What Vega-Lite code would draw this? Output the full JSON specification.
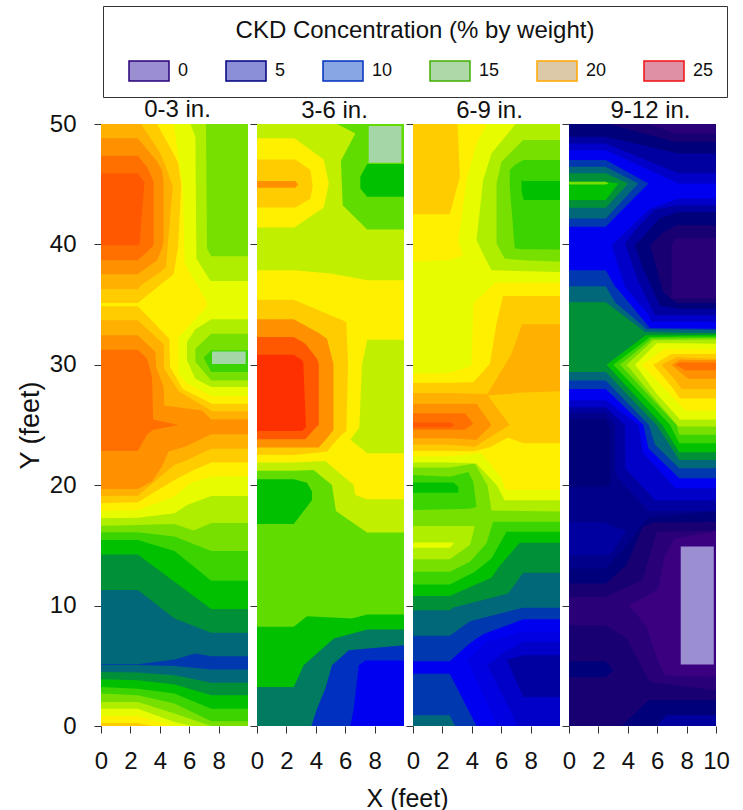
{"$schema":"https://vega.github.io/schema/vega-lite/v6.json","padding":{"left":16,"top":5,"right":0,"bottom":0},"background":"white","datasets":{
"p1":[
{"r":1,"l":19,"x":0,"y":0,"y2":50},{"r":1,"l":19,"x":10,"y":0,"y2":50},
{"r":2,"l":18,"x":0,"y":0.25,"y2":50},{"r":2,"l":18,"x":2.5,"y":0.25,"y2":50},{"r":2,"l":18,"x":3.47,"y":0,"y2":50},{"r":2,"l":18,"x":10,"y":0,"y2":50},
{"r":3,"l":17,"x":0,"y":0.83,"y2":50},{"r":3,"l":17,"x":2.5,"y":0.83,"y2":50},{"r":3,"l":17,"x":4.9,"y":0,"y2":50},{"r":3,"l":17,"x":10,"y":0,"y2":50},
{"r":4,"l":15,"x":0,"y":1.44,"y2":50},{"r":4,"l":15,"x":2.5,"y":1.44,"y2":50},{"r":4,"l":15,"x":5,"y":0.33,"y2":50},{"r":4,"l":15,"x":6.2,"y":0,"y2":50},{"r":4,"l":15,"x":10,"y":0,"y2":50},
{"r":5,"l":14,"x":0,"y":2,"y2":50},{"r":5,"l":14,"x":2.5,"y":2,"y2":50},{"r":5,"l":14,"x":5,"y":1.03,"y2":50},{"r":5,"l":14,"x":7.5,"y":0,"y2":50},{"r":5,"l":14,"x":10,"y":0,"y2":50},
{"r":6,"l":12,"x":0,"y":2.69,"y2":50},{"r":6,"l":12,"x":2.5,"y":2.55,"y2":50},{"r":6,"l":12,"x":5,"y":1.86,"y2":50},{"r":6,"l":12,"x":7.5,"y":0.39,"y2":50},{"r":6,"l":12,"x":10,"y":0.39,"y2":50},
{"r":7,"l":11,"x":0,"y":3.24,"y2":50},{"r":7,"l":11,"x":2.5,"y":3.1,"y2":50},{"r":7,"l":11,"x":5,"y":2.69,"y2":50},{"r":7,"l":11,"x":7.5,"y":1.44,"y2":50},{"r":7,"l":11,"x":10,"y":1.44,"y2":50},
{"r":8,"l":10,"x":0,"y":3.88,"y2":50},{"r":8,"l":10,"x":2.5,"y":3.8,"y2":50},{"r":8,"l":10,"x":5,"y":3.44,"y2":50},{"r":8,"l":10,"x":7.5,"y":2.55,"y2":50},{"r":8,"l":10,"x":10,"y":2.55,"y2":50},
{"r":9,"l":9,"x":0,"y":4.49,"y2":50},{"r":9,"l":9,"x":2.5,"y":4.44,"y2":50},{"r":9,"l":9,"x":5,"y":4.22,"y2":50},{"r":9,"l":9,"x":7.5,"y":3.6,"y2":50},{"r":9,"l":9,"x":10,"y":3.6,"y2":50},
{"r":10,"l":8,"x":0,"y":5.07,"y2":50},{"r":10,"l":8,"x":2.5,"y":5.07,"y2":50},{"r":10,"l":8,"x":5,"y":4.99,"y2":50},{"r":10,"l":8,"x":7.5,"y":4.69,"y2":50},{"r":10,"l":8,"x":10,"y":4.69,"y2":50},
{"r":11,"l":9,"x":0,"y":5.13,"y2":50},{"r":11,"l":9,"x":2.5,"y":5.13,"y2":50},{"r":11,"l":9,"x":5,"y":5.52,"y2":50},{"r":11,"l":9,"x":6.4,"y":6.02,"y2":50},{"r":11,"l":9,"x":7.5,"y":5.8,"y2":50},{"r":11,"l":9,"x":10,"y":5.8,"y2":50},
{"r":12,"l":10,"x":0,"y":11.29,"y2":50},{"r":12,"l":10,"x":2.5,"y":11.29,"y2":50},{"r":12,"l":10,"x":5,"y":8.93,"y2":50},{"r":12,"l":10,"x":7.5,"y":7.74,"y2":50},{"r":12,"l":10,"x":10,"y":7.74,"y2":50},
{"r":13,"l":11,"x":0,"y":14.25,"y2":50},{"r":13,"l":11,"x":2.5,"y":14.25,"y2":50},{"r":13,"l":11,"x":5,"y":11.98,"y2":50},{"r":13,"l":11,"x":7.5,"y":9.71,"y2":50},{"r":13,"l":11,"x":10,"y":9.71,"y2":50},
{"r":14,"l":12,"x":0,"y":15.45,"y2":50},{"r":14,"l":12,"x":2.5,"y":15.45,"y2":50},{"r":14,"l":12,"x":5,"y":14.53,"y2":50},{"r":14,"l":12,"x":7.5,"y":12.06,"y2":50},{"r":14,"l":12,"x":10,"y":12.06,"y2":50},
{"r":15,"l":14,"x":0,"y":16.09,"y2":50},{"r":15,"l":14,"x":2.5,"y":16.09,"y2":50},{"r":15,"l":14,"x":5,"y":15.73,"y2":50},{"r":15,"l":14,"x":7.5,"y":14.53,"y2":50},{"r":15,"l":14,"x":10,"y":14.53,"y2":50},
{"r":16,"l":15,"x":0,"y":16.64,"y2":50},{"r":16,"l":15,"x":2.5,"y":16.69,"y2":50},{"r":16,"l":15,"x":5,"y":16.78,"y2":50},{"r":16,"l":15,"x":6.3,"y":16.24,"y2":50},{"r":16,"l":15,"x":7.5,"y":16.86,"y2":50},{"r":16,"l":15,"x":10,"y":16.86,"y2":50},
{"r":17,"l":17,"x":0,"y":17.25,"y2":50},{"r":17,"l":17,"x":2.5,"y":17.3,"y2":50},{"r":17,"l":17,"x":5,"y":17.66,"y2":50},{"r":17,"l":17,"x":5.85,"y":18.36,"y2":50},{"r":17,"l":17,"x":7.5,"y":19.11,"y2":50},{"r":17,"l":17,"x":10,"y":19.11,"y2":50},
{"r":18,"l":18,"x":0,"y":17.86,"y2":50},{"r":18,"l":18,"x":2.5,"y":17.94,"y2":50},{"r":18,"l":18,"x":5,"y":19.06,"y2":50},{"r":18,"l":18,"x":6.08,"y":20.16,"y2":50},{"r":18,"l":18,"x":7.5,"y":20.72,"y2":50},{"r":18,"l":18,"x":10,"y":20.72,"y2":50},
{"r":19,"l":19,"x":0,"y":18.5,"y2":50},{"r":19,"l":19,"x":2.5,"y":18.58,"y2":50},{"r":19,"l":19,"x":5,"y":20.44,"y2":50},{"r":19,"l":19,"x":6.19,"y":21.19,"y2":50},{"r":19,"l":19,"x":7.5,"y":21.88,"y2":50},{"r":19,"l":19,"x":10,"y":21.88,"y2":50},
{"r":20,"l":20,"x":0,"y":19.11,"y2":50},{"r":20,"l":20,"x":2.5,"y":19.13,"y2":50},{"r":20,"l":20,"x":5,"y":21.69,"y2":50},{"r":20,"l":20,"x":5.62,"y":21.96,"y2":50},{"r":20,"l":20,"x":7.5,"y":23.02,"y2":50},{"r":20,"l":20,"x":10,"y":23.02,"y2":50},
{"r":21,"l":21,"x":0,"y":19.69,"y2":50},{"r":21,"l":21,"x":2.5,"y":19.69,"y2":50},{"r":21,"l":21,"x":3.47,"y":20.3,"y2":50},{"r":21,"l":21,"x":4.15,"y":21.55,"y2":50},{"r":21,"l":21,"x":4.6,"y":22.8,"y2":50},{"r":21,"l":21,"x":5.74,"y":23.21,"y2":50},{"r":21,"l":21,"x":7.5,"y":24.24,"y2":50},{"r":21,"l":21,"x":10,"y":24.24,"y2":50},
{"r":22,"l":20,"x":0,"y":32.45,"y2":50},{"r":22,"l":20,"x":2.5,"y":32.45,"y2":50},{"r":22,"l":20,"x":3.7,"y":31.06,"y2":50},{"r":22,"l":20,"x":3.75,"y":29.81,"y2":50},{"r":22,"l":20,"x":4.26,"y":28.15,"y2":50},{"r":22,"l":20,"x":4.3,"y":26.62,"y2":50},{"r":22,"l":20,"x":6.87,"y":26.2,"y2":50},{"r":22,"l":20,"x":7.5,"y":25.46,"y2":50},{"r":22,"l":20,"x":10,"y":25.46,"y2":50},
{"r":23,"l":19,"x":0,"y":33.7,"y2":50},{"r":23,"l":19,"x":2.5,"y":33.7,"y2":50},{"r":23,"l":19,"x":4.26,"y":31.7,"y2":50},{"r":23,"l":19,"x":4.3,"y":29.67,"y2":50},{"r":23,"l":19,"x":5.28,"y":27.81,"y2":50},{"r":23,"l":19,"x":7.55,"y":26.15,"y2":50},{"r":23,"l":19,"x":10,"y":26.15,"y2":50},
{"r":24,"l":18,"x":0,"y":34.86,"y2":50},{"r":24,"l":18,"x":2.5,"y":34.86,"y2":50},{"r":24,"l":18,"x":4.65,"y":32.17,"y2":50},{"r":24,"l":18,"x":4.7,"y":29.81,"y2":50},{"r":24,"l":18,"x":5.56,"y":28,"y2":50},{"r":24,"l":18,"x":7.55,"y":26.76,"y2":50},{"r":24,"l":18,"x":10,"y":26.76,"y2":50},
{"r":25,"l":22,"x":0,"y":22.85,"y2":31.25},{"r":25,"l":22,"x":2.5,"y":22.85,"y2":31.25},{"r":25,"l":22,"x":3.13,"y":24.22,"y2":30.5},{"r":25,"l":22,"x":3.47,"y":24.55,"y2":29},{"r":25,"l":22,"x":3.55,"y":24.6,"y2":25.45},{"r":25,"l":22,"x":5.28,"y":25,"y2":25},
{"r":26,"l":19,"x":0,"y":35.14,"y2":50},{"r":26,"l":19,"x":2.5,"y":35.14,"y2":50},{"r":26,"l":19,"x":3.81,"y":36.42,"y2":50},{"r":26,"l":19,"x":4.94,"y":37.52,"y2":47.5},{"r":26,"l":19,"x":5.24,"y":39.79,"y2":46.8},{"r":26,"l":19,"x":5.46,"y":44.93,"y2":44.93},
{"r":27,"l":20,"x":0,"y":36.27,"y2":50},{"r":27,"l":20,"x":2.5,"y":36.27,"y2":50},{"r":27,"l":20,"x":2.72,"y":36.6,"y2":50},{"r":27,"l":20,"x":4.04,"y":37.7,"y2":47.56},{"r":27,"l":20,"x":4.42,"y":38.13,"y2":46.42},{"r":27,"l":20,"x":4.88,"y":44.79,"y2":44.79},
{"r":28,"l":21,"x":0,"y":37.52,"y2":48.81},{"r":28,"l":21,"x":2.5,"y":37.52,"y2":48.81},{"r":28,"l":21,"x":3.81,"y":38.69,"y2":46.9},{"r":28,"l":21,"x":4.15,"y":39.66,"y2":46.17},{"r":28,"l":21,"x":4.26,"y":40.35,"y2":45.06},
{"r":29,"l":22,"x":0,"y":38.69,"y2":47.37},{"r":29,"l":22,"x":2.5,"y":38.69,"y2":47.37},{"r":29,"l":22,"x":3.13,"y":39.38,"y2":46.45},{"r":29,"l":22,"x":3.58,"y":39.93,"y2":45.2},
{"r":30,"l":23,"x":0,"y":39.93,"y2":45.9},{"r":30,"l":23,"x":2.5,"y":39.93,"y2":45.9},{"r":30,"l":23,"x":2.61,"y":39.93,"y2":45.7},{"r":30,"l":23,"x":2.95,"y":45.06,"y2":45.2},
{"r":31,"l":17,"x":4.94,"y":50,"y2":50},{"r":31,"l":17,"x":5.56,"y":44.79,"y2":50},{"r":31,"l":17,"x":5.69,"y":38.41,"y2":50},{"r":31,"l":17,"x":7.21,"y":35.22,"y2":50},{"r":31,"l":17,"x":7.44,"y":27.4,"y2":50},{"r":31,"l":17,"x":10,"y":27.4,"y2":50},
{"r":32,"l":17,"x":5.28,"y":29.26,"y2":32.31},{"r":32,"l":17,"x":5.74,"y":28.56,"y2":32.9},{"r":32,"l":17,"x":6.98,"y":27.76,"y2":34.53},{"r":32,"l":17,"x":7.44,"y":27.45,"y2":35.22},
{"r":33,"l":15,"x":6.08,"y":50,"y2":50},{"r":33,"l":15,"x":6.42,"y":48.95,"y2":50},{"r":33,"l":15,"x":6.49,"y":38.82,"y2":50},{"r":33,"l":15,"x":7.44,"y":36.97,"y2":50},{"r":33,"l":15,"x":10,"y":36.97,"y2":50},
{"r":34,"l":14,"x":7.14,"y":50,"y2":50},{"r":34,"l":14,"x":7.21,"y":39.66,"y2":50},{"r":34,"l":14,"x":7.5,"y":39.02,"y2":50},{"r":34,"l":14,"x":10,"y":39.02,"y2":50},
{"r":35,"l":15,"x":5.85,"y":30.37,"y2":31.89},{"r":35,"l":15,"x":6.42,"y":28.84,"y2":32.95},{"r":35,"l":15,"x":7.5,"y":28.15,"y2":33.78},{"r":35,"l":15,"x":10,"y":28.15,"y2":33.78},
{"r":36,"l":14,"x":6.42,"y":30.23,"y2":31.34},{"r":36,"l":14,"x":7.5,"y":28.7,"y2":32.58},{"r":36,"l":14,"x":10,"y":28.7,"y2":32.58},
{"r":37,"l":12,"x":6.98,"y":30.59,"y2":30.59},{"r":37,"l":12,"x":7.5,"y":29.4,"y2":31.2},{"r":37,"l":12,"x":10,"y":29.4,"y2":31.2},
{"r":38,"l":25,"x":7.55,"y":30.06,"y2":31.1},{"r":38,"l":25,"x":9.84,"y":30.06,"y2":31.1}
],
"p2":[
{"r":1,"l":27,"x":0,"y":0,"y2":50},{"r":1,"l":27,"x":10,"y":0,"y2":50},
{"r":2,"l":11,"x":0,"y":3.24,"y2":50},{"r":2,"l":11,"x":2.5,"y":3.24,"y2":50},{"r":2,"l":11,"x":3.17,"y":5.05,"y2":50},{"r":2,"l":11,"x":5.22,"y":7.27,"y2":50},{"r":2,"l":11,"x":7.5,"y":8.01,"y2":50},{"r":2,"l":11,"x":10,"y":8.01,"y2":50},
{"r":3,"l":13,"x":0,"y":8.24,"y2":50},{"r":3,"l":13,"x":2.5,"y":8.24,"y2":50},{"r":3,"l":13,"x":3.4,"y":9.12,"y2":50},{"r":3,"l":13,"x":6.46,"y":8.93,"y2":50},{"r":3,"l":13,"x":7.5,"y":9.26,"y2":50},{"r":3,"l":13,"x":10,"y":9.26,"y2":50},
{"r":4,"l":28,"x":3.7,"y":0,"y2":0},{"r":4,"l":28,"x":4.08,"y":0,"y2":1.44},{"r":4,"l":28,"x":4.65,"y":0,"y2":3.11},{"r":4,"l":28,"x":5.1,"y":0,"y2":5.05},{"r":4,"l":28,"x":6.24,"y":0,"y2":6.29},{"r":4,"l":28,"x":10,"y":0,"y2":6.71},
{"r":5,"l":7,"x":6.35,"y":0,"y2":0},{"r":5,"l":7,"x":6.58,"y":0,"y2":1.44},{"r":5,"l":7,"x":6.92,"y":0,"y2":5.05},{"r":5,"l":7,"x":7.37,"y":0,"y2":5.44},{"r":5,"l":7,"x":10,"y":0,"y2":5.44},
{"r":6,"l":11,"x":0,"y":16.78,"y2":20.49},{"r":6,"l":11,"x":2.5,"y":16.78,"y2":20.49},{"r":6,"l":11,"x":3.4,"y":18.22,"y2":20.2},{"r":6,"l":11,"x":3.74,"y":18.77,"y2":19.47},
{"r":7,"l":16,"x":0,"y":21.19,"y2":50},{"r":7,"l":16,"x":2.5,"y":21.19,"y2":50},{"r":7,"l":16,"x":3.85,"y":21.27,"y2":50},{"r":7,"l":16,"x":5.1,"y":20.02,"y2":50},{"r":7,"l":16,"x":5.37,"y":17.86,"y2":50},{"r":7,"l":16,"x":7.48,"y":16.08,"y2":50},{"r":7,"l":16,"x":10,"y":16.08,"y2":50},
{"r":8,"l":18,"x":0,"y":21.88,"y2":50},{"r":8,"l":18,"x":2.5,"y":21.88,"y2":50},{"r":8,"l":18,"x":4.65,"y":22,"y2":50},{"r":8,"l":18,"x":6.58,"y":20.02,"y2":50},{"r":8,"l":18,"x":6.69,"y":19.19,"y2":50},{"r":8,"l":18,"x":7.48,"y":18.83,"y2":50},{"r":8,"l":18,"x":10,"y":18.83,"y2":50},
{"r":9,"l":19,"x":0,"y":22.52,"y2":35.41},{"r":9,"l":19,"x":2.5,"y":22.5,"y2":35.41},{"r":9,"l":19,"x":4.76,"y":22.8,"y2":34.25},{"r":9,"l":19,"x":5.74,"y":24.2,"y2":33.75},{"r":9,"l":19,"x":6.08,"y":24.5,"y2":33.55},{"r":9,"l":19,"x":6.19,"y":30.1,"y2":30.1},
{"r":10,"l":21,"x":0,"y":23.13,"y2":33.78},{"r":10,"l":21,"x":2.5,"y":23.13,"y2":33.78},{"r":10,"l":21,"x":4.2,"y":23.13,"y2":32.64},{"r":10,"l":21,"x":4.76,"y":23.9,"y2":32.17},{"r":10,"l":21,"x":5.15,"y":24.5,"y2":30.3},{"r":10,"l":21,"x":5.2,"y":24.6,"y2":30.08},
{"r":11,"l":23,"x":0,"y":23.82,"y2":32.3},{"r":11,"l":23,"x":2.5,"y":23.82,"y2":32.3},{"r":11,"l":23,"x":3.29,"y":23.82,"y2":31.75},{"r":11,"l":23,"x":4.08,"y":24.9,"y2":30.5},{"r":11,"l":23,"x":4.2,"y":25,"y2":30.1},
{"r":12,"l":24,"x":0,"y":24.5,"y2":30.84},{"r":12,"l":24,"x":2.5,"y":24.5,"y2":30.84},{"r":12,"l":24,"x":3.06,"y":24.5,"y2":30.4},{"r":12,"l":24,"x":3.15,"y":24.6,"y2":30.2},{"r":12,"l":24,"x":3.33,"y":24.8,"y2":24.8},
{"r":13,"l":16,"x":6.35,"y":23.77,"y2":23.77},{"r":13,"l":16,"x":6.96,"y":23.18,"y2":24.8},{"r":13,"l":16,"x":7.14,"y":23.02,"y2":30},{"r":13,"l":16,"x":7.5,"y":22.66,"y2":32.09},{"r":13,"l":16,"x":10,"y":22.66,"y2":32.09},
{"r":14,"l":16,"x":0,"y":37.85,"y2":50},{"r":14,"l":16,"x":2.5,"y":37.85,"y2":50},{"r":14,"l":16,"x":5,"y":37.58,"y2":50},{"r":14,"l":16,"x":7.5,"y":37.02,"y2":50},{"r":14,"l":16,"x":10,"y":37.02,"y2":50},
{"r":15,"l":18,"x":0,"y":41.4,"y2":48.81},{"r":15,"l":18,"x":2.54,"y":41.4,"y2":48.81},{"r":15,"l":18,"x":4.54,"y":43.07,"y2":47.06},{"r":15,"l":18,"x":4.88,"y":45.06,"y2":45.06},
{"r":16,"l":19,"x":0,"y":43.07,"y2":47.06},{"r":16,"l":19,"x":2.6,"y":43.07,"y2":47.06},{"r":16,"l":19,"x":3.63,"y":43.8,"y2":46.17},{"r":16,"l":19,"x":3.79,"y":44.9,"y2":44.9},
{"r":17,"l":21,"x":0,"y":44.7,"y2":45.26},{"r":17,"l":21,"x":2.6,"y":44.7,"y2":45.26},{"r":17,"l":21,"x":2.8,"y":44.97,"y2":44.97},
{"r":18,"l":13,"x":5.44,"y":50,"y2":50},{"r":18,"l":13,"x":5.71,"y":46.95,"y2":50},{"r":18,"l":13,"x":5.83,"y":43.26,"y2":50},{"r":18,"l":13,"x":7.5,"y":41.24,"y2":50},{"r":18,"l":13,"x":10,"y":41.24,"y2":50},
{"r":19,"l":16,"x":5.44,"y":46.5,"y2":50},{"r":19,"l":16,"x":5.71,"y":46.95,"y2":49.83},{"r":19,"l":16,"x":6.69,"y":49.22,"y2":49.22},
{"r":20,"l":11,"x":7.03,"y":44.65,"y2":45.62},{"r":20,"l":11,"x":7.5,"y":43.95,"y2":46.67},{"r":20,"l":11,"x":10,"y":43.95,"y2":46.67},
{"r":21,"l":25,"x":7.6,"y":46.78,"y2":49.83},{"r":21,"l":25,"x":9.82,"y":46.78,"y2":49.83}
],
"p3":[
{"r":1,"l":8,"x":0,"y":0,"y2":50},{"r":1,"l":8,"x":10,"y":0,"y2":50},
{"r":2,"l":9,"x":0,"y":0,"y2":0.89},{"r":2,"l":9,"x":2.5,"y":0,"y2":0.89},{"r":2,"l":9,"x":2.85,"y":0,"y2":0},
{"r":3,"l":7,"x":0,"y":4.35,"y2":5.38},{"r":3,"l":7,"x":2.5,"y":4.35,"y2":5.38},{"r":3,"l":7,"x":3.7,"y":1.47,"y2":6.71},{"r":3,"l":7,"x":4.32,"y":0,"y2":7.27},{"r":3,"l":7,"x":4.88,"y":0,"y2":7.68},{"r":3,"l":7,"x":7.5,"y":0,"y2":8.87},{"r":3,"l":7,"x":10,"y":0,"y2":8.87},
{"r":4,"l":30,"x":3.71,"y":5.46,"y2":5.46},{"r":4,"l":30,"x":5,"y":2,"y2":6.99},{"r":4,"l":30,"x":5.75,"y":0,"y2":7.2},{"r":4,"l":30,"x":7.5,"y":0,"y2":7.82},{"r":4,"l":30,"x":10,"y":0,"y2":7.82},
{"r":5,"l":6,"x":5.07,"y":5.05,"y2":5.05},{"r":5,"l":6,"x":6.24,"y":2.2,"y2":6.16},{"r":5,"l":6,"x":7.15,"y":0,"y2":6.71},{"r":5,"l":6,"x":7.5,"y":0,"y2":7},{"r":5,"l":6,"x":10,"y":0,"y2":7},
{"r":6,"l":5,"x":6.38,"y":5.5,"y2":5.5},{"r":6,"l":5,"x":7.5,"y":2.41,"y2":5.88},{"r":6,"l":5,"x":10,"y":2.41,"y2":5.88},
{"r":7,"l":9,"x":0,"y":7.49,"y2":50},{"r":7,"l":9,"x":2.5,"y":7.49,"y2":50},{"r":7,"l":9,"x":3.87,"y":8.71,"y2":50},{"r":7,"l":9,"x":7.5,"y":9.82,"y2":50},{"r":7,"l":9,"x":10,"y":9.82,"y2":50},
{"r":8,"l":10,"x":0,"y":9.62,"y2":50},{"r":8,"l":10,"x":2.5,"y":9.62,"y2":50},{"r":8,"l":10,"x":2.74,"y":9.84,"y2":50},{"r":8,"l":10,"x":6.47,"y":11,"y2":50},{"r":8,"l":10,"x":7.5,"y":12.73,"y2":50},{"r":8,"l":10,"x":10,"y":12.73,"y2":50},
{"r":9,"l":11,"x":0,"y":10.79,"y2":50},{"r":9,"l":11,"x":2.5,"y":10.79,"y2":50},{"r":9,"l":11,"x":4.43,"y":11.84,"y2":50},{"r":9,"l":11,"x":5.34,"y":12.31,"y2":50},{"r":9,"l":11,"x":5.79,"y":13.14,"y2":50},{"r":9,"l":11,"x":7.26,"y":15.22,"y2":50},{"r":9,"l":11,"x":10,"y":15.22,"y2":50},
{"r":10,"l":12,"x":0,"y":11.76,"y2":50},{"r":10,"l":12,"x":2.5,"y":11.76,"y2":50},{"r":10,"l":12,"x":4.21,"y":12.81,"y2":50},{"r":10,"l":12,"x":5.34,"y":13.92,"y2":50},{"r":10,"l":12,"x":6.36,"y":16.14,"y2":50},{"r":10,"l":12,"x":10,"y":16.14,"y2":50},
{"r":11,"l":14,"x":0,"y":12.81,"y2":50},{"r":11,"l":14,"x":2.5,"y":12.81,"y2":50},{"r":11,"l":14,"x":3.87,"y":13.64,"y2":50},{"r":11,"l":14,"x":5,"y":15.17,"y2":50},{"r":11,"l":14,"x":5.45,"y":16.97,"y2":50},{"r":11,"l":14,"x":10,"y":16.97,"y2":50},
{"r":12,"l":15,"x":0,"y":13.84,"y2":16.61},{"r":12,"l":15,"x":2.5,"y":13.84,"y2":16.61},{"r":12,"l":15,"x":3.87,"y":15.03,"y2":16.61},{"r":12,"l":15,"x":4.21,"y":16.6,"y2":16.6},
{"r":13,"l":17,"x":0,"y":14.8,"y2":15.25},{"r":13,"l":17,"x":2.5,"y":14.8,"y2":15.25},{"r":13,"l":17,"x":2.74,"y":15.1,"y2":15.25},
{"r":14,"l":12,"x":0,"y":17.94,"y2":20.85},{"r":14,"l":12,"x":2.5,"y":18,"y2":20.7},{"r":14,"l":12,"x":3.76,"y":18.05,"y2":21.1},{"r":14,"l":12,"x":4.1,"y":18.1,"y2":20.3},{"r":14,"l":12,"x":4.32,"y":18.2,"y2":18.2},
{"r":15,"l":11,"x":0,"y":19.38,"y2":20.22},{"r":15,"l":11,"x":2.74,"y":19.38,"y2":20.22},{"r":15,"l":11,"x":3.08,"y":19.38,"y2":19.88},
{"r":16,"l":15,"x":0,"y":21.46,"y2":50},{"r":16,"l":15,"x":2.5,"y":21.46,"y2":50},{"r":16,"l":15,"x":4.21,"y":21.8,"y2":50},{"r":16,"l":15,"x":5.07,"y":19.98,"y2":50},{"r":16,"l":15,"x":5.34,"y":17.9,"y2":50},{"r":16,"l":15,"x":10,"y":17.82,"y2":50},
{"r":17,"l":17,"x":0,"y":21.88,"y2":50},{"r":17,"l":17,"x":2.5,"y":21.88,"y2":50},{"r":17,"l":17,"x":4.32,"y":21.8,"y2":50},{"r":17,"l":17,"x":5.7,"y":20,"y2":50},{"r":17,"l":17,"x":6.24,"y":18.76,"y2":50},{"r":17,"l":17,"x":10,"y":18.76,"y2":50},
{"r":18,"l":18,"x":0,"y":22.38,"y2":50},{"r":18,"l":18,"x":2.5,"y":22.4,"y2":50},{"r":18,"l":18,"x":4.66,"y":22.66,"y2":50},{"r":18,"l":18,"x":6.02,"y":20.57,"y2":50},{"r":18,"l":18,"x":6.29,"y":19.6,"y2":50},{"r":18,"l":18,"x":10,"y":19.6,"y2":50},
{"r":19,"l":19,"x":0,"y":22.85,"y2":28.48},{"r":19,"l":19,"x":2.5,"y":22.85,"y2":28.5},{"r":19,"l":19,"x":4.1,"y":22.83,"y2":28.56},{"r":19,"l":19,"x":5.23,"y":23.16,"y2":30.09},{"r":19,"l":19,"x":5.68,"y":23.45,"y2":33.42},{"r":19,"l":19,"x":6.13,"y":23.75,"y2":35.72},{"r":19,"l":19,"x":6.46,"y":23.96,"y2":35.72},{"r":19,"l":19,"x":7.5,"y":23.49,"y2":35.72},{"r":19,"l":19,"x":10,"y":23.49,"y2":35.72},
{"r":20,"l":20,"x":5,"y":27.45,"y2":27.45},{"r":20,"l":20,"x":6.7,"y":27.6,"y2":30.9},{"r":20,"l":20,"x":7.42,"y":27.7,"y2":33.36},{"r":20,"l":20,"x":10,"y":27.8,"y2":33.36},
{"r":21,"l":20,"x":0,"y":23.35,"y2":27.65},{"r":21,"l":20,"x":2.5,"y":23.35,"y2":27.65},{"r":21,"l":20,"x":4.21,"y":23.2,"y2":27.6},{"r":21,"l":20,"x":5,"y":23.82,"y2":27.6},{"r":21,"l":20,"x":6.58,"y":25,"y2":25},
{"r":22,"l":21,"x":0,"y":23.9,"y2":26.76},{"r":22,"l":21,"x":2.5,"y":23.9,"y2":26.76},{"r":22,"l":21,"x":4.32,"y":23.78,"y2":26.76},{"r":22,"l":21,"x":5.34,"y":25,"y2":25},
{"r":23,"l":22,"x":0,"y":24.6,"y2":25.98},{"r":23,"l":22,"x":3.53,"y":24.6,"y2":25.98},{"r":23,"l":22,"x":4.1,"y":25.1,"y2":25.1},
{"r":24,"l":23,"x":0,"y":24.8,"y2":25.2},{"r":24,"l":23,"x":2.6,"y":24.8,"y2":25.2},{"r":24,"l":23,"x":2.8,"y":25,"y2":25},
{"r":25,"l":19,"x":0,"y":42.51,"y2":50},{"r":25,"l":19,"x":2.5,"y":42.51,"y2":50},{"r":25,"l":19,"x":3.03,"y":44.9,"y2":50},{"r":25,"l":19,"x":3.19,"y":45.62,"y2":45.62},
{"r":26,"l":17,"x":0,"y":29.26,"y2":38.55},{"r":26,"l":17,"x":2.5,"y":29.34,"y2":38.7},{"r":26,"l":17,"x":3.42,"y":29.7,"y2":39.1},{"r":26,"l":17,"x":3.98,"y":29.95,"y2":38.74},{"r":26,"l":17,"x":4.1,"y":35.1,"y2":38.6},{"r":26,"l":17,"x":5.61,"y":36.83,"y2":37.8},{"r":26,"l":17,"x":10,"y":36.83,"y2":37.71},
{"r":27,"l":17,"x":3.08,"y":40.2,"y2":40.2},{"r":27,"l":17,"x":3.42,"y":39.1,"y2":43.3},{"r":27,"l":17,"x":3.64,"y":38.96,"y2":45.34},{"r":27,"l":17,"x":4.32,"y":38.5,"y2":48.39},{"r":27,"l":17,"x":5,"y":38.07,"y2":50},{"r":27,"l":17,"x":5.34,"y":37.85,"y2":50},{"r":27,"l":17,"x":10,"y":37.71,"y2":50},
{"r":28,"l":15,"x":4.32,"y":40.36,"y2":40.36},{"r":28,"l":15,"x":4.77,"y":39.2,"y2":45.34},{"r":28,"l":15,"x":5.34,"y":37.85,"y2":47.56},{"r":28,"l":15,"x":6.97,"y":37.8,"y2":50},{"r":28,"l":15,"x":10,"y":37.71,"y2":50},
{"r":29,"l":14,"x":5.68,"y":40.07,"y2":45.06},{"r":29,"l":14,"x":6.02,"y":39.3,"y2":46.87},{"r":29,"l":14,"x":6.24,"y":38.82,"y2":47.14},{"r":29,"l":14,"x":7.5,"y":38.69,"y2":48.67},{"r":29,"l":14,"x":10,"y":38.55,"y2":48.67},
{"r":30,"l":12,"x":6.58,"y":44.8,"y2":46.17},{"r":30,"l":12,"x":6.92,"y":39.66,"y2":46.6},{"r":30,"l":12,"x":7.5,"y":39.6,"y2":47},{"r":30,"l":12,"x":10,"y":39.57,"y2":47},
{"r":31,"l":11,"x":7.38,"y":44.5,"y2":45.3},{"r":31,"l":11,"x":7.53,"y":43.68,"y2":45.26},{"r":31,"l":11,"x":10,"y":43.68,"y2":45.26}
],
"p4":[
{"r":1,"l":3,"x":0,"y":0,"y2":50},{"r":1,"l":3,"x":10,"y":0,"y2":50},
{"r":2,"l":4,"x":3.58,"y":0,"y2":0},{"r":2,"l":4,"x":5.4,"y":0,"y2":2.14},{"r":2,"l":4,"x":10,"y":0,"y2":2.14},
{"r":3,"l":5,"x":5.96,"y":0,"y2":0},{"r":3,"l":5,"x":6.64,"y":0,"y2":0.89},{"r":3,"l":5,"x":10,"y":0,"y2":0.89},
{"r":4,"l":4,"x":0,"y":4.08,"y2":5.38},{"r":4,"l":4,"x":2.5,"y":4.08,"y2":5.38},{"r":4,"l":4,"x":3,"y":4.63,"y2":4.63},
{"r":5,"l":2,"x":0,"y":8.37,"y2":50},{"r":5,"l":2,"x":2.5,"y":8.37,"y2":50},{"r":5,"l":2,"x":3.92,"y":7.27,"y2":50},{"r":5,"l":2,"x":5.51,"y":3.66,"y2":50},{"r":5,"l":2,"x":10,"y":2.97,"y2":50},
{"r":6,"l":3,"x":0,"y":10.73,"y2":50},{"r":6,"l":3,"x":2.5,"y":10.73,"y2":50},{"r":6,"l":3,"x":5,"y":12.12,"y2":50},{"r":6,"l":3,"x":5.96,"y":16.14,"y2":50},{"r":6,"l":3,"x":10,"y":16.2,"y2":50},
{"r":7,"l":1,"x":4.08,"y":10.04,"y2":10.04},{"r":7,"l":1,"x":5.28,"y":8.24,"y2":10.8},{"r":7,"l":1,"x":6.08,"y":5.3,"y2":11.43},{"r":7,"l":1,"x":6.53,"y":4.21,"y2":14.2},{"r":7,"l":1,"x":7.21,"y":4.16,"y2":15.58},{"r":7,"l":1,"x":10,"y":4.1,"y2":16.2},
{"r":8,"l":4,"x":0,"y":11.84,"y2":50},{"r":8,"l":4,"x":2.5,"y":11.84,"y2":50},{"r":8,"l":4,"x":3.92,"y":13.4,"y2":50},{"r":8,"l":4,"x":5,"y":16.5,"y2":50},{"r":8,"l":4,"x":5.74,"y":16.9,"y2":50},{"r":8,"l":4,"x":10,"y":16.97,"y2":50},
{"r":9,"l":29,"x":0,"y":13.09,"y2":50},{"r":9,"l":29,"x":2.5,"y":13.09,"y2":50},{"r":9,"l":29,"x":3.92,"y":15,"y2":50},{"r":9,"l":29,"x":5,"y":16.8,"y2":50},{"r":9,"l":29,"x":5.4,"y":17.3,"y2":50},{"r":9,"l":29,"x":10,"y":17.86,"y2":50},
{"r":10,"l":5,"x":0,"y":14.2,"y2":16.92},{"r":10,"l":5,"x":2.5,"y":14.2,"y2":16.92},{"r":10,"l":5,"x":2.9,"y":14.34,"y2":16.6},{"r":10,"l":5,"x":3.92,"y":16.28,"y2":16.28},
{"r":11,"l":4,"x":0,"y":19.88,"y2":25.5},{"r":11,"l":4,"x":2.5,"y":19.88,"y2":25.5},{"r":11,"l":4,"x":2.8,"y":20,"y2":24.5},
{"r":12,"l":5,"x":0,"y":26,"y2":50},{"r":12,"l":5,"x":2.5,"y":26,"y2":50},{"r":12,"l":5,"x":3.13,"y":25,"y2":50},{"r":12,"l":5,"x":3.15,"y":20.85,"y2":50},{"r":12,"l":5,"x":5.4,"y":17.86,"y2":50},{"r":12,"l":5,"x":10,"y":17.86,"y2":50},
{"r":13,"l":6,"x":0,"y":26.48,"y2":50},{"r":13,"l":6,"x":2.5,"y":26.48,"y2":50},{"r":13,"l":6,"x":3.81,"y":25,"y2":50},{"r":13,"l":6,"x":3.83,"y":21.41,"y2":50},{"r":13,"l":6,"x":5.85,"y":18.76,"y2":50},{"r":13,"l":6,"x":10,"y":18.76,"y2":50},
{"r":14,"l":7,"x":0,"y":27.05,"y2":50},{"r":14,"l":7,"x":2.5,"y":27.05,"y2":50},{"r":14,"l":7,"x":4.72,"y":25,"y2":50},{"r":14,"l":7,"x":5.06,"y":22.65,"y2":50},{"r":14,"l":7,"x":7.26,"y":19.75,"y2":50},{"r":14,"l":7,"x":10,"y":19.75,"y2":50},
{"r":15,"l":8,"x":0,"y":28,"y2":50},{"r":15,"l":8,"x":2.5,"y":28,"y2":50},{"r":15,"l":8,"x":5.06,"y":25,"y2":50},{"r":15,"l":8,"x":5.4,"y":23.07,"y2":50},{"r":15,"l":8,"x":7.5,"y":20.58,"y2":50},{"r":15,"l":8,"x":10,"y":20.58,"y2":50},
{"r":16,"l":9,"x":0,"y":28.7,"y2":50},{"r":16,"l":9,"x":2.5,"y":28.7,"y2":50},{"r":16,"l":9,"x":5.44,"y":25,"y2":50},{"r":16,"l":9,"x":5.85,"y":23.35,"y2":50},{"r":16,"l":9,"x":7.5,"y":21.41,"y2":50},{"r":16,"l":9,"x":10,"y":21.41,"y2":50},
{"r":17,"l":10,"x":0,"y":29.4,"y2":35.2},{"r":17,"l":10,"x":2.5,"y":29.4,"y2":35.2},{"r":17,"l":10,"x":5.17,"y":26,"y2":32.72},{"r":17,"l":10,"x":5.96,"y":25,"y2":32.7},{"r":17,"l":10,"x":7.5,"y":22.1,"y2":32.67},{"r":17,"l":10,"x":10,"y":22.1,"y2":32.64},
{"r":18,"l":8,"x":0,"y":36.52,"y2":50},{"r":18,"l":8,"x":2.5,"y":36.52,"y2":50},{"r":18,"l":8,"x":3.13,"y":35.2,"y2":50},{"r":18,"l":8,"x":5.28,"y":32.95,"y2":50},{"r":18,"l":8,"x":10,"y":32.92,"y2":50},
{"r":19,"l":7,"x":0,"y":37.85,"y2":50},{"r":19,"l":7,"x":2.5,"y":37.85,"y2":50},{"r":19,"l":7,"x":3.13,"y":36.5,"y2":50},{"r":19,"l":7,"x":3.58,"y":35.9,"y2":50},{"r":19,"l":7,"x":5.5,"y":33.05,"y2":50},{"r":19,"l":7,"x":10,"y":33,"y2":50},
{"r":20,"l":6,"x":0,"y":47.83,"y2":50},{"r":20,"l":6,"x":2.5,"y":47.83,"y2":50},{"r":20,"l":6,"x":7.44,"y":45.06,"y2":50},{"r":20,"l":6,"x":10,"y":45.06,"y2":50},
{"r":21,"l":5,"x":0,"y":48.39,"y2":50},{"r":21,"l":5,"x":2.5,"y":48.39,"y2":50},{"r":21,"l":5,"x":7.44,"y":45.9,"y2":50},{"r":21,"l":5,"x":10,"y":45.9,"y2":50},
{"r":22,"l":4,"x":0,"y":48.95,"y2":50},{"r":22,"l":4,"x":2.5,"y":48.95,"y2":50},{"r":22,"l":4,"x":7.44,"y":47.56,"y2":50},{"r":22,"l":4,"x":10,"y":47.56,"y2":50},
{"r":23,"l":3,"x":2.68,"y":50,"y2":50},{"r":23,"l":3,"x":7.2,"y":48.53,"y2":50},{"r":23,"l":3,"x":10,"y":48.53,"y2":50},
{"r":24,"l":2,"x":5.4,"y":50,"y2":50},{"r":24,"l":2,"x":7.2,"y":49.22,"y2":50},{"r":24,"l":2,"x":10,"y":49.22,"y2":50},
{"r":25,"l":6,"x":2.9,"y":39.93,"y2":39.93},{"r":25,"l":6,"x":3.81,"y":36.47,"y2":40.99},{"r":25,"l":6,"x":5.4,"y":34.2,"y2":42.85},{"r":25,"l":6,"x":5.62,"y":33.6,"y2":43},{"r":25,"l":6,"x":7.44,"y":33.6,"y2":43.82},{"r":25,"l":6,"x":10,"y":33.56,"y2":43.82},
{"r":26,"l":5,"x":3.81,"y":40.07,"y2":40.07},{"r":26,"l":5,"x":4.72,"y":36.9,"y2":41.5},{"r":26,"l":5,"x":5.85,"y":34.11,"y2":42.9},{"r":26,"l":5,"x":7.44,"y":34.11,"y2":43.26},{"r":26,"l":5,"x":10,"y":34.11,"y2":43.26},
{"r":27,"l":4,"x":4.49,"y":39.93,"y2":39.93},{"r":27,"l":4,"x":5,"y":38.13,"y2":40.6},{"r":27,"l":4,"x":6.19,"y":34.9,"y2":42.2},{"r":27,"l":4,"x":7.44,"y":34.66,"y2":42.7},{"r":27,"l":4,"x":10,"y":34.66,"y2":42.7},
{"r":28,"l":3,"x":5.51,"y":39.93,"y2":39.93},{"r":28,"l":3,"x":6.42,"y":36,"y2":41},{"r":28,"l":3,"x":7.3,"y":35.14,"y2":41.6},{"r":28,"l":3,"x":10,"y":35.14,"y2":41.6},
{"r":29,"l":2,"x":6.98,"y":35.5,"y2":40},{"r":29,"l":2,"x":7.2,"y":35.5,"y2":40.49},{"r":29,"l":2,"x":10,"y":35.5,"y2":40.49},
{"r":30,"l":8,"x":0,"y":41.46,"y2":47},{"r":30,"l":8,"x":2.5,"y":41.46,"y2":47},{"r":30,"l":8,"x":5.4,"y":45.06,"y2":45.06},
{"r":31,"l":9,"x":0,"y":42.15,"y2":46.45},{"r":31,"l":9,"x":2.5,"y":42.15,"y2":46.45},{"r":31,"l":9,"x":4.72,"y":45.06,"y2":45.06},
{"r":32,"l":10,"x":0,"y":43.04,"y2":45.9},{"r":32,"l":10,"x":2.5,"y":43.04,"y2":45.9},{"r":32,"l":10,"x":4.04,"y":45.06,"y2":45.06},
{"r":33,"l":11,"x":0,"y":43.68,"y2":45.2},{"r":33,"l":11,"x":2.5,"y":43.68,"y2":45.2},{"r":33,"l":11,"x":3.36,"y":45.06,"y2":45.06},
{"r":34,"l":14,"x":0,"y":44.97,"y2":45.2},{"r":34,"l":14,"x":2.5,"y":44.97,"y2":45.2},{"r":34,"l":14,"x":2.7,"y":45.06,"y2":45.06},
{"r":35,"l":11,"x":2.56,"y":30,"y2":30},{"r":35,"l":11,"x":5.22,"y":26.49,"y2":32.45},{"r":35,"l":11,"x":6.35,"y":25,"y2":32.45},{"r":35,"l":11,"x":7.5,"y":22.74,"y2":32.45},{"r":35,"l":11,"x":10,"y":22.74,"y2":32.5},
{"r":36,"l":12,"x":3.01,"y":30,"y2":30},{"r":36,"l":12,"x":5.51,"y":26.8,"y2":32.3},{"r":36,"l":12,"x":6.87,"y":25,"y2":32.33},{"r":36,"l":12,"x":7.5,"y":23.49,"y2":32.35},{"r":36,"l":12,"x":10,"y":23.49,"y2":32.36},
{"r":37,"l":14,"x":3.47,"y":30,"y2":30},{"r":37,"l":14,"x":5.62,"y":27.2,"y2":32.17},{"r":37,"l":14,"x":7.32,"y":25,"y2":32.2},{"r":37,"l":14,"x":7.5,"y":24.18,"y2":32.2},{"r":37,"l":14,"x":10,"y":24.18,"y2":32.25},
{"r":38,"l":15,"x":3.92,"y":30,"y2":30},{"r":38,"l":15,"x":5.74,"y":27.3,"y2":32.03},{"r":38,"l":15,"x":7.44,"y":24.88,"y2":32.05},{"r":38,"l":15,"x":10,"y":24.88,"y2":32.1},
{"r":39,"l":17,"x":4.49,"y":30,"y2":30},{"r":39,"l":17,"x":5.96,"y":27.6,"y2":31.8},{"r":39,"l":17,"x":7.55,"y":25.46,"y2":31.8},{"r":39,"l":17,"x":10,"y":25.46,"y2":31.75},
{"r":40,"l":18,"x":4.94,"y":30,"y2":30},{"r":40,"l":18,"x":6.53,"y":28,"y2":31.34},{"r":40,"l":18,"x":7.89,"y":26.2,"y2":31.3},{"r":40,"l":18,"x":10,"y":26.2,"y2":31.3},
{"r":41,"l":19,"x":5.73,"y":30,"y2":30},{"r":41,"l":19,"x":6.98,"y":28.2,"y2":30.9},{"r":41,"l":19,"x":7.55,"y":27.2,"y2":30.9},{"r":41,"l":19,"x":10,"y":27.2,"y2":30.9},
{"r":42,"l":20,"x":6.3,"y":30,"y2":30},{"r":42,"l":20,"x":7.32,"y":28.6,"y2":30.64},{"r":42,"l":20,"x":7.66,"y":28,"y2":30.6},{"r":42,"l":20,"x":10,"y":28,"y2":30.5},
{"r":43,"l":21,"x":6.96,"y":30,"y2":30},{"r":43,"l":21,"x":7.55,"y":29.4,"y2":30.42},{"r":43,"l":21,"x":8.12,"y":28.84,"y2":30.4},{"r":43,"l":21,"x":10,"y":28.84,"y2":30.4},
{"r":44,"l":22,"x":7.21,"y":30,"y2":30},{"r":44,"l":22,"x":7.55,"y":29.8,"y2":30.2},{"r":44,"l":22,"x":7.89,"y":29.54,"y2":30.2},{"r":44,"l":22,"x":10,"y":29.54,"y2":30.2},
{"r":45,"l":26,"x":7.6,"y":5.1,"y2":14.9},{"r":45,"l":26,"x":9.85,"y":5.1,"y2":14.9}
],
"leg":[{"c":"0"},{"c":"5"},{"c":"10"},{"c":"15"},{"c":"20"},{"c":"25"}]
},
"config":{"font":"Liberation Sans","view":{"stroke":null},"axis":{"grid":false,"domain":false,"tickColor":"#333","tickSize":7,"labelFontSize":24,"labelColor":"#111","titleFontSize":25,"titleFontWeight":"normal","titleColor":"#111"},"axisX":{"labelPadding":16,"labelFlush":false,"labelOverlap":false},"axisY":{"labelPadding":18},"title":{"fontSize":24,"fontWeight":"normal","color":"#111"}},
"bounds":"flush","spacing":9,
"hconcat":[
{"width":147,"height":602,"title":{"text":"0-3 in.","dx":3,"offset":-10},"layer":[
{"data":{"name":"p1"},"mark":{"type":"area","interpolate":"linear"},"encoding":{
"x":{"field":"x","type":"quantitative","scale":{"domain":[0,10],"nice":false},"axis":{"values":[0,2,4,6,8],"title":null}},
"y":{"field":"y","type":"quantitative","scale":{"domain":[0,50],"nice":false},"axis":{"values":[0,10,20,30,40,50],"title":"Y (feet)","titleFontSize":27,"titleX":-57}},
"y2":{"field":"y2"},"detail":{"field":"r"},
"color":{"field":"l","type":"nominal","legend":null,"scale":{"domain":[1,2,3,4,5,6,7,8,9,10,11,12,13,14,15,16,17,18,19,20,21,22,23,24,25,26,27,28,29,30],"range":["#3a0080","#2a0078","#180072","#00007a","#0000a0","#0000c8","#0000f0","#0038b0","#006878","#009038","#00c000","#3cd400","#60dc00","#78e000","#b0ee00","#c0f000","#e8fc00","#fff000","#ffcc00","#ffb000","#ff9000","#ff7000","#ff5800","#ff3000","#a4d6a8","#9b8fd2","#007a60","#0030c0","#00008a","#0000e0"]}}}},
{"data":{"name":"leg"},"mark":{"type":"point","filled":true,"opacity":0},"encoding":{
"fill":{"field":"c","type":"nominal","scale":{"domain":["0","5","10","15","20","25"],"range":["#9b8fd2","#8a8fd8","#88a5e4","#aed8a8","#dcc9a8","#e090a5"]},"legend":{"orient":"none","legendX":2,"legendY":-118,"title":"CKD Concentration (% by weight)","titleFontSize":24,"titleLimit":600,"titleFontWeight":"normal","titleColor":"#111","titleAnchor":"middle","titlePadding":17,"columns":6,"direction":"horizontal","columnPadding":24,"padding":13,"strokeColor":"#333","fillColor":"white","symbolType":"M0.2,-1H4.2V1H0.2Z","symbolSize":400,"symbolStrokeWidth":1.5,"symbolOpacity":1,"labelFontSize":18,"labelColor":"#111","labelOffset":40,"encoding":{"title":{"update":{"dy":{"value":6},"dx":{"value":6}}}}}},
"stroke":{"field":"c","type":"nominal","scale":{"domain":["0","5","10","15","20","25"],"range":["#2a0078","#000080","#0030c0","#40b000","#ffa800","#f01010"]},"legend":{"orient":"none","legendX":2,"legendY":-118,"title":"CKD Concentration (% by weight)","titleFontSize":24,"titleLimit":600,"titleFontWeight":"normal","titleColor":"#111","titleAnchor":"middle","titlePadding":17,"columns":6,"direction":"horizontal","columnPadding":24,"padding":13,"strokeColor":"#333","fillColor":"white","symbolType":"M0.2,-1H4.2V1H0.2Z","symbolSize":400,"symbolStrokeWidth":1.5,"symbolOpacity":1,"labelFontSize":18,"labelColor":"#111","labelOffset":40,"encoding":{"title":{"update":{"dy":{"value":6},"dx":{"value":6}}}}}}}}
]},
{"width":147,"height":602,"title":{"text":"3-6 in.","dx":4,"offset":1},"data":{"name":"p2"},"mark":{"type":"area","interpolate":"linear"},"encoding":{
"x":{"field":"x","type":"quantitative","scale":{"domain":[0,10],"nice":false},"axis":{"values":[0,2,4,6,8],"title":"X (feet)","titleX":150,"titleY":60}},
"y":{"field":"y","type":"quantitative","scale":{"domain":[0,50],"nice":false},"axis":{"values":[0,10,20,30,40,50],"title":null,"labels":false}},
"y2":{"field":"y2"},"detail":{"field":"r"},
"color":{"field":"l","type":"nominal","legend":null,"scale":{"domain":[1,2,3,4,5,6,7,8,9,10,11,12,13,14,15,16,17,18,19,20,21,22,23,24,25,26,27,28,29,30],"range":["#3a0080","#2a0078","#180072","#00007a","#0000a0","#0000c8","#0000f0","#0038b0","#006878","#009038","#00c000","#3cd400","#60dc00","#78e000","#b0ee00","#c0f000","#e8fc00","#fff000","#ffcc00","#ffb000","#ff9000","#ff7000","#ff5800","#ff3000","#a4d6a8","#9b8fd2","#007a60","#0030c0","#00008a","#0000e0"]}}}},
{"width":147,"height":602,"title":{"text":"6-9 in.","dx":3,"offset":1},"data":{"name":"p3"},"mark":{"type":"area","interpolate":"linear"},"encoding":{
"x":{"field":"x","type":"quantitative","scale":{"domain":[0,10],"nice":false},"axis":{"values":[0,2,4,6,8],"title":null}},
"y":{"field":"y","type":"quantitative","scale":{"domain":[0,50],"nice":false},"axis":{"values":[0,10,20,30,40,50],"title":null,"labels":false}},
"y2":{"field":"y2"},"detail":{"field":"r"},
"color":{"field":"l","type":"nominal","legend":null,"scale":{"domain":[1,2,3,4,5,6,7,8,9,10,11,12,13,14,15,16,17,18,19,20,21,22,23,24,25,26,27,28,29,30],"range":["#3a0080","#2a0078","#180072","#00007a","#0000a0","#0000c8","#0000f0","#0038b0","#006878","#009038","#00c000","#3cd400","#60dc00","#78e000","#b0ee00","#c0f000","#e8fc00","#fff000","#ffcc00","#ffb000","#ff9000","#ff7000","#ff5800","#ff3000","#a4d6a8","#9b8fd2","#007a60","#0030c0","#00008a","#0000e0"]}}}},
{"width":147,"height":602,"title":{"text":"9-12 in.","dx":8,"offset":1},"data":{"name":"p4"},"mark":{"type":"area","interpolate":"linear"},"encoding":{
"x":{"field":"x","type":"quantitative","scale":{"domain":[0,10],"nice":false},"axis":{"values":[0,2,4,6,8,10],"title":null}},
"y":{"field":"y","type":"quantitative","scale":{"domain":[0,50],"nice":false},"axis":{"values":[0,10,20,30,40,50],"title":null,"labels":false}},
"y2":{"field":"y2"},"detail":{"field":"r"},
"color":{"field":"l","type":"nominal","legend":null,"scale":{"domain":[1,2,3,4,5,6,7,8,9,10,11,12,13,14,15,16,17,18,19,20,21,22,23,24,25,26,27,28,29,30],"range":["#3a0080","#2a0078","#180072","#00007a","#0000a0","#0000c8","#0000f0","#0038b0","#006878","#009038","#00c000","#3cd400","#60dc00","#78e000","#b0ee00","#c0f000","#e8fc00","#fff000","#ffcc00","#ffb000","#ff9000","#ff7000","#ff5800","#ff3000","#a4d6a8","#9b8fd2","#007a60","#0030c0","#00008a","#0000e0"]}}}}
]}
